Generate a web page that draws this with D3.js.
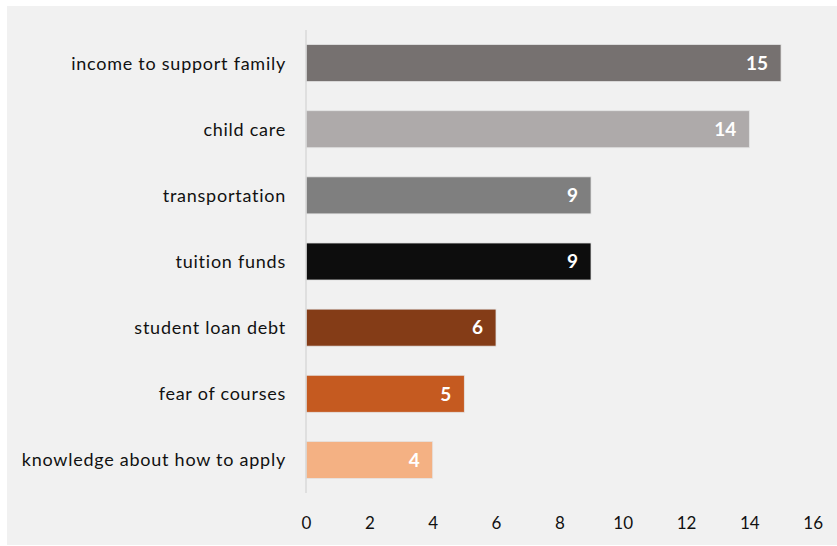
<!DOCTYPE html>
<html>
<head>
<meta charset="utf-8">
<script src="https://cdn.jsdelivr.net/npm/d3@7"></script>
<style>
  html, body { margin: 0; padding: 0; background: #ffffff; }
  svg { display: block; }
  text { font-family: Lato, "Open Sans", sans-serif; }
</style>
</head>
<body>
<svg id="chart" width="837" height="546"></svg>
<script>
// Barriers to enrollment, number of responses
const categories = [
  "income to support family",
  "child care",
  "transportation",
  "tuition funds",
  "student loan debt",
  "fear of courses",
  "knowledge about how to apply"
];
const values = [15, 14, 9, 9, 6, 5, 4];
const barColors = ["#767170", "#aeaaaa", "#7f7f7f", "#0d0d0d", "#843c17", "#c55a20", "#f4b183"];
const xTicks = [0, 2, 4, 6, 8, 10, 12, 14, 16];

const svg = d3.select("#chart");
const W = 837, H = 546;

// panel background
svg.append("rect")
  .attr("x", 7).attr("y", 6)
  .attr("width", W - 7).attr("height", H - 7)
  .attr("fill", "#f1f1f1");

const x = d3.scaleLinear().domain([0, 16]).range([306, 812.7]);
const y = d3.scaleBand().domain(categories).range([30, 493]).paddingInner(0.44).paddingOuter(0.22);

// bars
svg.append("g").selectAll("rect")
  .data(values)
  .join("rect")
  .attr("x", x(0))
  .attr("y", (d, i) => y(categories[i]))
  .attr("width", d => x(d) - x(0))
  .attr("height", y.bandwidth())
  .attr("fill", (d, i) => barColors[i])
  .attr("stroke", "#e4e4e4")
  .attr("stroke-width", 0.8);

// value labels inside bar ends
svg.append("g").selectAll("text")
  .data(values)
  .join("text")
  .attr("x", d => x(d) - 13)
  .attr("y", (d, i) => y(categories[i]) + y.bandwidth() / 2)
  .attr("dy", "0.36em")
  .attr("text-anchor", "end")
  .attr("fill", "#ffffff")
  .attr("font-weight", "bold")
  .attr("font-size", 19)
  .text(d => d);

// vertical axis line with category labels
svg.append("line")
  .attr("x1", x(0)).attr("x2", x(0))
  .attr("y1", 30).attr("y2", 493)
  .attr("stroke", "#d9d9d9").attr("stroke-width", 1.5);

svg.append("g").selectAll("text")
  .data(categories)
  .join("text")
  .attr("x", 286)
  .attr("y", d => y(d) + y.bandwidth() / 2)
  .attr("dy", "0.36em")
  .attr("text-anchor", "end")
  .attr("fill", "#111111")
  .attr("font-size", 18)
  .attr("letter-spacing", "0.75px")
  .text(d => d);

// value axis tick labels
const xAxis = d3.axisBottom(x).tickValues(xTicks).tickSize(0).tickPadding(0);
const gx = svg.append("g").attr("transform", "translate(0,517)").call(xAxis);
gx.select(".domain").remove();
gx.selectAll("text")
  .attr("font-family", "Lato, 'Open Sans', sans-serif")
  .attr("font-size", 17)
  .attr("fill", "#111111");
</script>
</body>
</html>
